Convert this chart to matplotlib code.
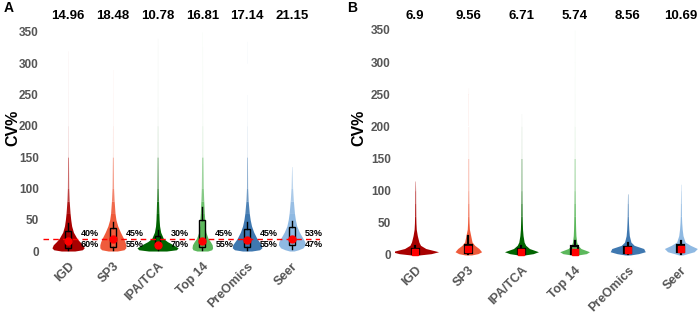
import numpy as np
import matplotlib.pyplot as plt
from matplotlib.transforms import blended_transform_factory

groups = ["IGD", "SP3", "IPA/TCA", "Top 14", "PreOmics", "Seer"]
colors = ["#a80000", "#ef5b3b", "#006400", "#5cb85c", "#3f78b0", "#8fb9e2"]

# mean CV% printed above each violin
means_A = [14.96, 18.48, 10.78, 16.81, 17.14, 21.15]
means_B = [6.9, 9.56, 6.71, 5.74, 8.56, 10.69]

# share of proteins above / below the 20% line (panel A)
above_A = ["40%", "45%", "30%", "45%", "45%", "53%"]
below_A = ["60%", "55%", "70%", "55%", "55%", "47%"]
cutoff = 20

# violin half-widths (in category units) read at these CV% levels
levels = [0, 2, 5, 10, 15, 20, 30, 40, 50, 60, 80, 100, 150, 200, 250, 300, 350]
widths_A = [
    [0.15, 0.32, 0.36, 0.33, 0.26, 0.20, 0.12, 0.08, 0.06, 0.045, 0.025, 0.015, 0.009, 0.007, 0.006, 0.005, 0],
    [0.10, 0.25, 0.29, 0.29, 0.27, 0.24, 0.17, 0.11, 0.07, 0.05, 0.03, 0.017, 0.009, 0.007, 0.006, 0, 0],
    [0.20, 0.42, 0.46, 0.35, 0.22, 0.13, 0.07, 0.045, 0.035, 0.03, 0.022, 0.016, 0.01, 0.008, 0.006, 0.005, 0],
    [0.12, 0.21, 0.23, 0.22, 0.18, 0.13, 0.08, 0.06, 0.055, 0.045, 0.032, 0.022, 0.014, 0.01, 0.008, 0.006, 0.005],
    [0.10, 0.28, 0.33, 0.32, 0.27, 0.22, 0.15, 0.10, 0.07, 0.05, 0.025, 0.013, 0.008, 0.006, 0.005, 0.005, 0],
    [0.05, 0.15, 0.25, 0.30, 0.29, 0.25, 0.17, 0.11, 0.08, 0.06, 0.035, 0.018, 0, 0, 0, 0, 0],
]
tops_A = [320, 290, 340, 350, 335, 135]

widths_B = [
    [0.08, 0.30, 0.44, 0.20, 0.10, 0.07, 0.04, 0.02, 0.014, 0.011, 0.009, 0.008, 0, 0, 0, 0, 0],
    [0.06, 0.18, 0.25, 0.20, 0.12, 0.07, 0.045, 0.02, 0.014, 0.011, 0.009, 0.007, 0.006, 0.005, 0.005, 0, 0],
    [0.06, 0.22, 0.32, 0.15, 0.08, 0.05, 0.03, 0.02, 0.016, 0.013, 0.011, 0.009, 0.007, 0.005, 0, 0, 0],
    [0.06, 0.22, 0.28, 0.12, 0.06, 0.04, 0.025, 0.02, 0.017, 0.015, 0.013, 0.011, 0.009, 0.007, 0.006, 0.005, 0],
    [0.05, 0.20, 0.33, 0.30, 0.12, 0.06, 0.03, 0.02, 0.014, 0.01, 0.007, 0, 0, 0, 0, 0, 0],
    [0.04, 0.12, 0.25, 0.31, 0.18, 0.08, 0.04, 0.025, 0.016, 0.011, 0.008, 0.005, 0, 0, 0, 0, 0],
]
tops_B = [115, 260, 220, 350, 95, 110]

# box stats: whisker low, q1, median, q3, whisker high
box_A = [
    [2, 5, 16, 32, 44],
    [2, 7, 19, 37, 47],
    [1, 6, 10, 24, 34],
    [2, 6, 16, 50, 71],
    [2, 7, 17, 35, 47],
    [3, 10, 20, 38, 48],
]
box_B = [
    [1, 2, 5, 9, 14],
    [1, 3, 9, 16, 30],
    [1, 2, 5, 9, 14],
    [1, 2, 5, 14, 22],
    [1, 3, 7, 12, 18],
    [2, 5, 9, 15, 22],
]

tick_grey = "#555555"
fam = ["Liberation Sans", "DejaVu Sans"]


def draw_violin(ax, x, widths, top, color):
    ys, ws = [], []
    for y, w in zip(levels, widths):
        if y < top and (w > 0 or y == 0):
            ys.append(y)
            ws.append(w)
    ys.append(top)
    ws.append(0.004)
    ys = np.array(ys, float)
    ws = np.array(ws, float)
    nb = (ys <= 50).sum()
    ax.fill_betweenx(ys[:nb + 1], x - ws[:nb + 1], x + ws[:nb + 1], color=color, lw=0, zorder=2)
    # upper tail fades out
    for i in range(nb, len(ys) - 1):
        a = min(1, max(0.07, 1 - (ys[i] - 50) / 120))
        ax.fill_betweenx(ys[i:i + 2], x - ws[i:i + 2], x + ws[i:i + 2],
                         color=color, alpha=a, lw=0, zorder=2)


def draw_box(ax, x, stats, lw, marker, msize):
    lo, q1, med, q3, hi = stats
    hw = 0.065
    ax.plot([x, x], [lo, q1], color="black", lw=lw, zorder=3)
    ax.plot([x, x], [q3, hi], color="black", lw=lw, zorder=3)
    ax.add_patch(plt.Rectangle((x - hw, q1), 2 * hw, q3 - q1, fill=False,
                               ec="black", lw=lw, zorder=3))
    ax.plot([x], [med], marker=marker, color="red", ms=msize, mec="red", zorder=5)


fig = plt.figure(figsize=(7, 3.13), dpi=100)
axA = fig.add_axes([43 / 700, 0.182, 277 / 700, 0.736])
axB = fig.add_axes([395 / 700, 0.169, 305 / 700, 0.756])

panels = [
    (axA, widths_A, tops_A, box_A, means_A, (-0.56, 5.63), 1.0, "o", 5),
    (axB, widths_B, tops_B, box_B, means_B, (-0.38, 5.36), 1.6, "s", 5),
]

for ax, widths, tops, boxes, means, xl, blw, mk, ms in panels:
    xs = np.arange(len(groups))
    for i in range(len(groups)):
        draw_violin(ax, xs[i], widths[i], tops[i], colors[i])
        draw_box(ax, xs[i], boxes[i], blw, mk, ms)
    ax.set_xlim(*xl)
    ax.set_ylim(-8, 360)
    ax.set_yticks(np.arange(0, 351, 50))
    ax.set_xticks(xs)
    ax.set_xticklabels(groups, rotation=45, ha="right", rotation_mode="anchor")
    for lab in ax.get_xticklabels():
        lab.set_fontsize(9)
    for lab in ax.get_yticklabels():
        lab.set_fontsize(8.5)
    for lab in ax.get_xticklabels() + ax.get_yticklabels():
        lab.set_family(fam)
        lab.set_fontweight("bold")
        lab.set_color(tick_grey)
    ax.tick_params(length=0, pad=3)
    for s in ax.spines.values():
        s.set_visible(False)
    tr = blended_transform_factory(ax.transData, fig.transFigure)
    for i, m in enumerate(means):
        ax.text(xs[i], 0.948, f"{m}", transform=tr, ha="center", va="center",
                fontsize=9.5, fontweight="bold", family=fam)

# 20% cutoff and split shares in panel A
axA.axhline(cutoff, color="red", ls=(0, (4, 3)), lw=1, zorder=4)
for i in range(len(groups)):
    axA.text(i + 0.29, 28, above_A[i], ha="left", va="center", fontsize=6.5,
             fontweight="bold", family=fam, zorder=6)
    axA.text(i + 0.29, 11, below_A[i], ha="left", va="center", fontsize=6.5,
             fontweight="bold", family=fam, zorder=6)

fig.text(0.019, 0.59, "CV%", rotation=90, ha="center", va="center",
         fontsize=11.5, fontweight="bold", family=fam)
fig.text(0.513, 0.59, "CV%", rotation=90, ha="center", va="center",
         fontsize=11.5, fontweight="bold", family=fam)
fig.text(0.012, 0.975, "A", ha="center", va="center", fontsize=10, fontweight="bold", family=fam)
fig.text(0.503, 0.975, "B", ha="center", va="center", fontsize=10, fontweight="bold", family=fam)

fig.savefig("out.png", dpi=100)
